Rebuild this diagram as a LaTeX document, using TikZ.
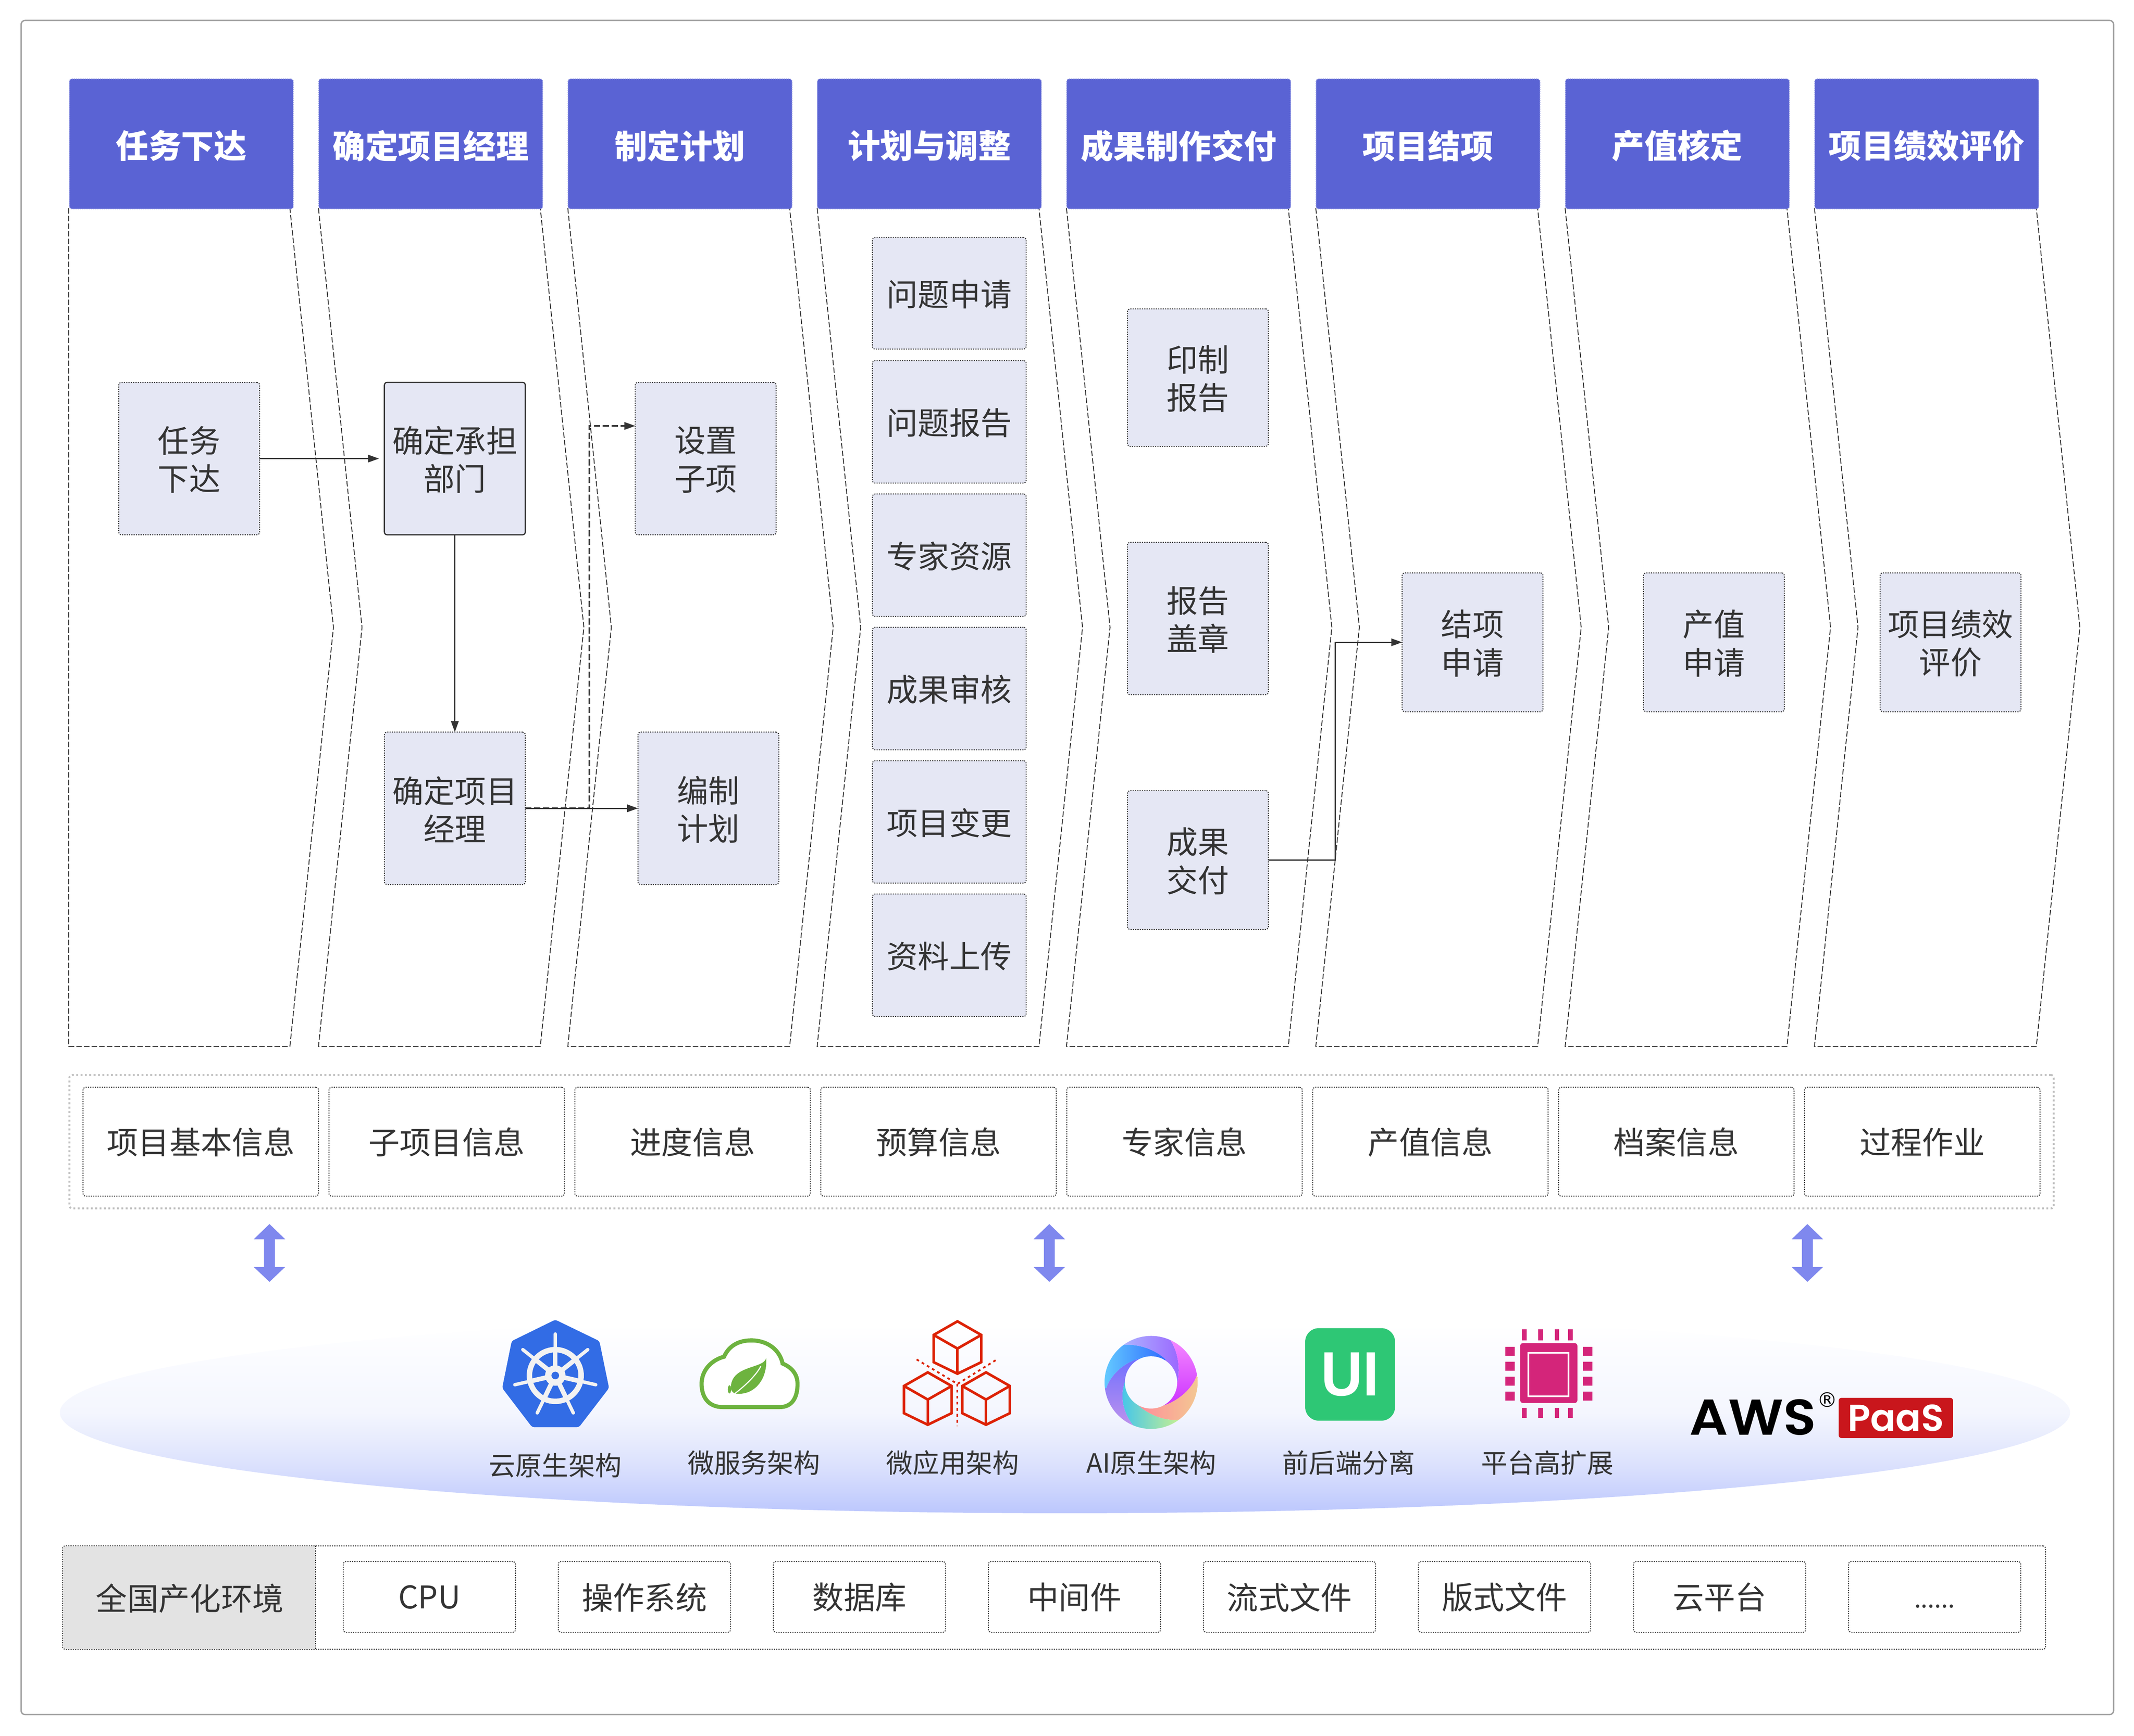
\documentclass[tikz,border=0pt]{standalone}
\usepackage{fontspec}
\setmainfont{Noto Sans CJK SC}
\newfontfamily\latinbold{Liberation Sans}
\newfontfamily\awsfont[UprightFont=* SemiBold]{Poppins}
\newfontfamily\dejavu{DejaVu Sans}
\usetikzlibrary{arrows.meta,calc}
\definecolor{txt}{HTML}{333333}
\definecolor{hdr}{HTML}{5A63D4}
\definecolor{lane}{HTML}{E5E7F4}
\definecolor{arrowblue}{HTML}{7F88EE}
\definecolor{kube}{HTML}{326CE5}
\definecolor{wheel}{HTML}{F2F2F2}
\definecolor{spring}{HTML}{6DB33F}
\definecolor{cubered}{HTML}{DD2204}
\definecolor{uigreen}{HTML}{2EC775}
\definecolor{chip}{HTML}{D4257A}
\definecolor{paasred}{HTML}{C9161C}
\definecolor{ra1}{HTML}{B0BDFF}\definecolor{ra2}{HTML}{9A66FF}
\definecolor{rb1}{HTML}{FF9EFF}\definecolor{rb2}{HTML}{CC33FF}
\definecolor{rc1}{HTML}{FF8C9A}\definecolor{rc2}{HTML}{F0D890}
\definecolor{rd1}{HTML}{3FC4EE}\definecolor{rd2}{HTML}{C8EE90}\definecolor{rd3}{HTML}{E0F880}
\definecolor{re1}{HTML}{7070FF}\definecolor{re2}{HTML}{D09AE8}
\definecolor{rf1}{HTML}{70E0FF}\definecolor{rf2}{HTML}{2F6CFF}
\pgfdeclareverticalshading{ellipseshade}{100bp}{
 color(0bp)=(rgb,255:red,188;green,199;blue,253);
 color(25bp)=(rgb,255:red,188;green,199;blue,253);
 color(27.7bp)=(rgb,255:red,195;green,205;blue,253);
 color(35.8bp)=(rgb,255:red,217;green,223;blue,253);
 color(43.5bp)=(rgb,255:red,232;green,236;blue,253);
 color(50bp)=(rgb,255:red,244;green,246;blue,254);
 color(63bp)=(rgb,255:red,250;green,251;blue,255);
 color(72bp)=(rgb,255:red,255;green,255;blue,255);
 color(100bp)=(rgb,255:red,255;green,255;blue,255)}
\tikzset{
 x=1pt,y=-1pt,
 basebox/.style={rectangle,rounded corners=2pt,inner sep=0pt,outer sep=0pt,align=center,text=txt},
 headbox/.style={basebox,fill=hdr,draw=hdr!70!white,line width=.6pt,dash pattern=on .8pt off .8pt,minimum width=164.5pt,minimum height=95.5pt},
 headtext/.style={inner sep=0pt,align=center,text=white,font=\fontsize{24}{28}\selectfont\bfseries,yshift=-1.5pt},
 lanebox/.style={basebox,fill=lane,draw=txt,line width=.7pt,dash pattern=on .8pt off .9pt},
 solidbox/.style={basebox,fill=lane,draw=txt,line width=.9pt},
 lanetext/.style={inner sep=0pt,align=center,text=txt,font=\fontsize{23}{28}\selectfont,yshift=-.8pt},
 infobox/.style={basebox,draw=txt,line width=.7pt,dash pattern=on .8pt off .9pt,minimum height=80pt},
 envbox/.style={basebox,draw=txt,line width=.7pt,dash pattern=on .8pt off .9pt,minimum width=126.5pt,minimum height=52pt},
 rowtext/.style={inner sep=0pt,align=center,text=txt,font=\fontsize{23}{28}\selectfont,yshift=-.3pt},
 lanecheck/.style={draw=txt,line width=.65pt,dash pattern=on 4pt off 1.6pt},
 conn/.style={draw=txt,line width=.9pt,-{Triangle[length=8pt,width=5.5pt]}},
 dashconn/.style={conn,line width=1.1pt,dash pattern=on 4.5pt off 2pt},
 iconlabel/.style={inner sep=0pt,text=txt,font=\fontsize{19.5}{24}\selectfont},
 wheelline/.style={draw=wheel,line cap=round},
 pin/.style={fill=chip},
 cubeline/.style={draw=cubered,line width=1.9pt,line join=miter},
 cubedots/.style={draw=cubered,line width=1.3pt,dash pattern=on 2pt off 2.4pt},
}
\newcommand{\mycube}[2]{%
 \draw[cubeline] (#1,#2) -- ({#1+17.5},{#2+10}) -- ({#1+17.5},{#2+30}) -- (#1,{#2+38.5}) -- ({#1-17.5},{#2+30}) -- ({#1-17.5},{#2+10}) -- cycle;
 \draw[cubeline] ({#1-17.5},{#2+10}) -- (#1,{#2+20}) -- ({#1+17.5},{#2+10});
 \draw[cubeline] (#1,{#2+20}) -- (#1,{#2+38.5});}
\newcommand{\updown}[1]{%
 \fill[arrowblue] (#1,899.5) -- ({#1+11.6},910.7) -- ({#1+4},910.7) -- ({#1+4},931) -- ({#1+11.6},931) -- (#1,942) -- ({#1-11.6},931) -- ({#1-4},931) -- ({#1-4},910.7) -- ({#1-11.6},910.7) -- cycle;}
\begin{document}
\begin{tikzpicture}
\useasboundingbox (0,0) rectangle (1568,1275.5);
\fill[white] (0,0) rectangle (1568,1275.5);
% outer frame
\draw[draw=black!38,line width=1pt,rounded corners=3pt] (15.5,15) rectangle (1553,1260);
% chevrons
\draw[lanecheck] (50.5,153) -- (50.5,769) -- (213,769) -- (245,461) -- (213,153);
\foreach \xa in {234,417.2,600.4,783.6,966.8,1150,1333.2}{
 \draw[lanecheck] (\xa,153) -- ({\xa+32},461) -- (\xa,769) -- ({\xa+163},769) -- ({\xa+195},461) -- ({\xa+163},153);
}
% headers
\foreach \nm/\cx/\t in {h1/133.25/任务下达,h2/316.45/确定项目经理,h3/499.65/制定计划,h4/682.85/计划与调整,h5/866.05/成果制作交付,h6/1049.25/项目结项,h7/1232.45/产值核定,h8/1415.65/项目绩效评价}{
 \node[headbox,label={[headtext]center:{\t}}] (\nm) at (\cx,105.75) {};
}
% lane boxes
\node[lanebox,minimum width=103.5pt,minimum height=112pt,label={[lanetext]center:{任务\\下达}}] (a1) at (139,337) {};
\node[solidbox,minimum width=103.5pt,minimum height=112pt,label={[lanetext]center:{确定承担\\部门}}] (a2) at (334.2,337) {};
\node[lanebox,minimum width=103.5pt,minimum height=112pt,label={[lanetext]center:{确定项目\\经理}}] (a3) at (334.2,594) {};
\node[lanebox,minimum width=103.5pt,minimum height=112pt,label={[lanetext]center:{设置\\子项}}] (a4) at (518.5,337) {};
\node[lanebox,minimum width=103.5pt,minimum height=112pt,label={[lanetext]center:{编制\\计划}}] (a5) at (520.5,594) {};
\node[lanebox,minimum width=113pt,minimum height=82pt,label={[lanetext]center:{问题申请}}] (b1) at (697.5,215.5) {};
\node[lanebox,minimum width=113pt,minimum height=90pt,label={[lanetext]center:{问题报告}}] (b2) at (697.5,310) {};
\node[lanebox,minimum width=113pt,minimum height=90pt,label={[lanetext]center:{专家资源}}] (b3) at (697.5,408) {};
\node[lanebox,minimum width=113pt,minimum height=90pt,label={[lanetext]center:{成果审核}}] (b4) at (697.5,506) {};
\node[lanebox,minimum width=113pt,minimum height=90pt,label={[lanetext]center:{项目变更}}] (b5) at (697.5,604) {};
\node[lanebox,minimum width=113pt,minimum height=90pt,label={[lanetext]center:{资料上传}}] (b6) at (697.5,702) {};
\node[lanebox,minimum width=103.5pt,minimum height=101pt,label={[lanetext]center:{印制\\报告}}] (c1) at (880.2,277.5) {};
\node[lanebox,minimum width=103.5pt,minimum height=112pt,label={[lanetext]center:{报告\\盖章}}] (c2) at (880.2,454.5) {};
\node[lanebox,minimum width=103.5pt,minimum height=102pt,label={[lanetext]center:{成果\\交付}}] (c3) at (880.2,632) {};
\node[lanebox,minimum width=103.5pt,minimum height=102pt,label={[lanetext]center:{结项\\申请}}] (d1) at (1082,472) {};
\node[lanebox,minimum width=103.5pt,minimum height=102pt,label={[lanetext]center:{产值\\申请}}] (d2) at (1259.3,472) {};
\node[lanebox,minimum width=103.5pt,minimum height=102pt,label={[lanetext]center:{项目绩效\\评价}}] (d3) at (1433.2,472) {};
% connectors
\draw[conn,shorten >=4pt] (a1.east) -- (a2.west);
\draw[conn] (a2.south) -- (a3.north);
\draw[conn] (a3.east) -- (a5.west);
\coordinate (dm1) at (433,594);
\coordinate (dm2) at (433,313);
\draw[dashconn] (a3.east) -- (dm1) -- (dm2) -- (dm2 -| a4.west);
\coordinate (dn1) at (981,632);
\coordinate (dn2) at (981,472);
\draw[conn] (c3.east) -- (dn1) -- (dn2) -- (d1.west);
% info strip
\node[basebox,draw=black!25,line width=1.4pt,dash pattern=on 1.4pt off 1.8pt,minimum width=1458pt,minimum height=98pt] (strip) at (780,839) {};
\foreach \nm/\cx/\t in {i1/147.5/项目基本信息,i2/328.2/子项目信息,i3/508.9/进度信息,i4/689.6/预算信息,i5/870.3/专家信息,i6/1051/产值信息,i7/1231.7/档案信息,i8/1412.4/过程作业}{
 \node[infobox,minimum width=173pt,label={[rowtext]center:{\t}}] (\nm) at (\cx,839) {};
}
% arrows
\updown{198}
\updown{771}
\updown{1328}
% ellipse
\shade[shading=ellipseshade] (782.5,1038) ellipse [x radius=738.5pt,y radius=74pt];
% kubernetes icon
\fill[kube,rounded corners=1.5pt] (408,969.8) -- (440.4,985.5) -- (447.5,1020) -- (425.4,1048.8) -- (391,1048.8) -- (369,1020) -- (376,985.5) -- cycle;
\foreach \ang in {90,141.43,192.86,244.29,295.71,347.14,398.57}{
 \draw[wheelline,line width=3.4pt] (408,1010.8) -- ({408+19*cos(\ang)},{1010.8-19*sin(\ang)});
 \draw[wheelline,line width=2.5pt] ({408+19*cos(\ang)},{1010.8-19*sin(\ang)}) -- ({408+30.5*cos(\ang)},{1010.8-30.5*sin(\ang)});
}
\draw[wheel,line width=4pt] (408,1010.8) circle [radius=19pt];
\fill[wheel] (408,1010.8) circle [radius=7.5pt];
\fill[kube] (408,1010.8) circle [radius=2.8pt];
% spring icon
\draw[spring,fill=white,line width=3pt] (531,1034) .. controls (520,1034) and (515.5,1026) .. (515.5,1017) .. controls (515.5,1006) and (524,999) .. (532,997) .. controls (536,988) and (544,985) .. (552,985) .. controls (564,985) and (573,992) .. (575,1002) .. controls (582,1005) and (586,1010) .. (586,1017) .. controls (586,1027) and (582,1034) .. (573,1034) -- cycle;
\fill[spring] (563,998) .. controls (561,1006) and (538,1003) .. (537,1019) .. controls (537,1022) and (538,1023) .. (540,1024) .. controls (553,1026) and (564,1015) .. (563,998) -- cycle;
\draw[white,line width=.8pt] (540,1024) .. controls (548,1018) and (556,1010) .. (559,1004);
\fill[spring] (536,1021) ellipse [x radius=1.2pt,y radius=3pt];
% cubes icon
\draw[cubedots] (673.5,999) -- (703.5,1017) -- (732.5,999);
\draw[cubedots] (703.5,1017) -- (703.5,1048);
\mycube{703.5}{971}
\mycube{681.7}{1008.5}
\mycube{724.5}{1008.5}
% AI ring icon: six swirling blades
\begin{scope}[shift={(800.5,969.8)},x=.10263pt,y=-.10263pt]
 \clip (441,449) circle [radius=333];
 \coordinate (rc) at (442,449);
 \shade[left color=ra1,right color=ra2] (190,95) -- (630,20) -- (575,140) .. controls (625,210) and (655,330) .. (630,450) -- (rc) -- (545,285) .. controls (470,215) and (360,175) .. (250,180) -- cycle;
 \shade[top color=rb1,bottom color=rb2] (575,140) -- (630,20) -- (900,375) -- (770,395) .. controls (740,490) and (640,580) .. (530,615) -- (rc) -- (630,450) .. controls (655,330) and (625,210) .. (575,140) -- cycle;
 \shade[left color=rc1,right color=rc2] (770,395) -- (900,375) -- (730,825) -- (645,715) .. controls (540,730) and (420,680) .. (340,605) -- (rc) -- (530,615) .. controls (640,580) and (740,490) .. (770,395) -- cycle;
 \shade[left color=rd1,middle color=rd2,right color=rd3] (645,715) -- (730,825) -- (270,870) -- (315,760) .. controls (250,680) and (210,560) .. (255,440) -- (rc) -- (340,605) .. controls (420,680) and (540,730) .. (645,715) -- cycle;
 \shade[top color=re1,bottom color=re2] (315,760) -- (270,870) -- (0,505) -- (120,490) .. controls (150,400) and (240,310) .. (350,280) -- (rc) -- (255,440) .. controls (210,560) and (250,680) .. (315,760) -- cycle;
 \shade[left color=rf1,right color=rf2] (120,490) -- (0,505) -- (190,95) -- (250,180) .. controls (360,175) and (470,215) .. (545,285) -- (rc) -- (350,280) .. controls (240,310) and (150,400) .. (120,490) -- cycle;
\end{scope}
\begin{scope}
 \clip (845.76,1015.88) circle [radius=19.2];
 \shade[shading=ellipseshade] (782.5,1038) ellipse [x radius=738.5pt,y radius=74pt];
\end{scope}
% UI icon
\fill[uigreen,rounded corners=10pt] (959,976) rectangle (1025,1044);
\node[inner sep=0pt,text=white,font=\fontsize{46}{46}\latinbold\bfseries,transform shape,xscale=.92] (uitext) at (992,1010) {UI};
% chip icon
\fill[chip,rounded corners=2pt] (1117,987) rectangle (1159,1031);
\draw[white,line width=1.3pt] (1123,994) rectangle (1152.5,1026);
\foreach \px in {1120,1132,1144,1154}{
 \fill[pin] ({\px-1.7},977) rectangle ({\px+1.7},985);
 \fill[pin] ({\px-1.7},1034.5) rectangle ({\px+1.7},1042);
}
\foreach \py in {993,1004,1015,1026}{
 \fill[pin] (1106,{\py-3.3}) rectangle (1113,{\py+3.3});
 \fill[pin] (1163,{\py-3.3}) rectangle (1170,{\py+3.3});
}
% icon labels
\node[iconlabel] (l1) at (408,1077) {云原生架构};
\node[iconlabel] (l2) at (554,1075) {微服务架构};
\node[iconlabel] (l3) at (700,1075) {微应用架构};
\node[iconlabel] (l4) at (846,1075) {AI原生架构};
\node[iconlabel] (l5) at (991,1075) {前后端分离};
\node[iconlabel] (l6) at (1137,1075) {平台高扩展};
% AWS logo
\node[inner sep=0pt,text=black,font=\fontsize{37}{37}\awsfont,transform shape,xscale=1.07] (aws) at (1288,1041.5) {AWS};
\node[inner sep=0pt,text=black,font=\fontsize{15}{15}\dejavu] (reg) at (1342.5,1028.5) {®};
\node[basebox,fill=paasred,minimum width=84pt,minimum height=29.5pt,text=white,font=\fontsize{27.5}{27.5}\awsfont] (paas) at (1393,1042) {PaaS};
% bottom strip
\node[basebox,draw=txt,line width=.7pt,dash pattern=on .8pt off .9pt,minimum width=1457pt,minimum height=76pt] (env) at (774.5,1174) {};
\fill[black!11,rounded corners=2pt] (46.5,1136.3) rectangle (231.7,1211.7);
\draw[txt,line width=.7pt,dash pattern=on .8pt off .9pt] (231.7,1136) -- (231.7,1212);
\node[inner sep=0pt,text=txt,font=\fontsize{23}{28}\selectfont] (envt) at (139.5,1174.5) {全国产化环境};
\foreach \nm/\cx/\t in {e1/315.5/CPU,e2/473.5/操作系统,e3/631.5/数据库,e4/789.5/中间件,e5/947.5/流式文件,e6/1105.5/版式文件,e7/1263.5/云平台}{
 \node[envbox,label={[rowtext]center:{\t}}] (\nm) at (\cx,1173.5) {};
}
\node[envbox,label={[inner sep=0pt,text=txt,font=\fontsize{18}{20}\selectfont,yshift=-7pt]center:{......}}] (e8) at (1421.5,1173.5) {};
\end{tikzpicture}
\end{document}
